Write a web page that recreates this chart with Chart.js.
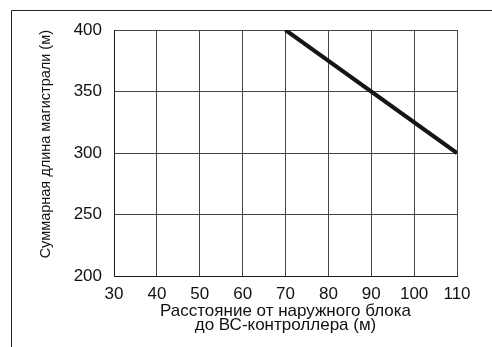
<!DOCTYPE html>
<html>
<head>
<meta charset="utf-8">
<script src="https://cdn.jsdelivr.net/npm/chart.js@4"></script>
<style>
    html, body { margin: 0; padding: 0; background: #fff; }
    #wrap { position: relative; width: 492px; height: 347px; }
</style>
</head>
<body>
<div id="wrap"><canvas id="length-chart"></canvas></div>
<script>
// distance from outdoor unit to BC controller (m) -> total main pipe length (m)
var distance = [70, 110];
var totalLength = [400, 300];
var xTickValues = [30, 40, 50, 60, 70, 80, 90, 100, 110];
var yTickValues = [200, 250, 300, 350, 400];
var xTitle = ['Расстояние от наружного блока', 'до ВС-контроллера (м)'];
var yTitle = 'Суммарная длина магистрали (м)';

var points = distance.map(function (d, i) {
    return {x: d, y: totalLength[i]};
});

// outer frame, open on the right and bottom like the source picture
var framePlugin = {
    id: 'frame',
    beforeDraw: function (chart) {
        var ctx = chart.ctx;
        ctx.save();
        ctx.fillStyle = '#fff';
        ctx.fillRect(0, 0, chart.width, chart.height);
        ctx.strokeStyle = '#222';
        ctx.lineWidth = 1;
        ctx.beginPath();
        ctx.moveTo(11.5, chart.height);
        ctx.lineTo(11.5, 10.5);
        ctx.lineTo(chart.width, 10.5);
        ctx.stroke();
        ctx.restore();
    }
};

function useTicks(values) {
    return function (scale) {
        scale.ticks = values.map(function (v) { return {value: v}; });
    };
}

Chart.defaults.font.family = '"Liberation Sans", Arial, sans-serif';
Chart.defaults.color = '#111';

var ctx = document.getElementById('length-chart').getContext('2d');
var chart = new Chart(ctx, {
    type: 'line',
    data: {
        datasets: [{
            data: points,
            borderColor: '#151515',
            borderWidth: 4,
            pointRadius: 0,
            fill: false
        }]
    },
    options: {
        responsive: true, maintainAspectRatio: false,
        animation: false,
        layout: {padding: {left: 0, top: 30, right: 35, bottom: 0}},
        plugins: {
            legend: {display: false},
            tooltip: {enabled: false}
        },
        scales: {
            x: {
                type: 'linear',
                min: 30, max: 110,
                afterBuildTicks: useTicks(xTickValues),
                afterFit: function (scale) { scale.height = 71; },
                grid: {color: '#444', lineWidth: 1, drawTicks: false},
                border: {color: '#1a1a1a', width: 1},
                ticks: {padding: 8, maxRotation: 0, font: {size: 17}},
                title: {
                    display: true,
                    text: xTitle,
                    font: {size: 17, lineHeight: 0.85},
                    padding: {top: 0, bottom: 14}
                }
            },
            y: {
                min: 200, max: 400,
                afterBuildTicks: useTicks(yTickValues),
                afterFit: function (scale) { scale.width = 114; },
                grid: {color: '#444', lineWidth: 1, drawTicks: false},
                border: {color: '#1a1a1a', width: 1},
                ticks: {padding: 12, font: {size: 17}},
                title: {
                    display: true,
                    text: yTitle,
                    align: 'end',
                    font: {size: 14.5, lineHeight: 1},
                    padding: {top: 39, bottom: 0}
                }
            }
        }
    },
    plugins: [framePlugin]
});
</script>
</body>
</html>
